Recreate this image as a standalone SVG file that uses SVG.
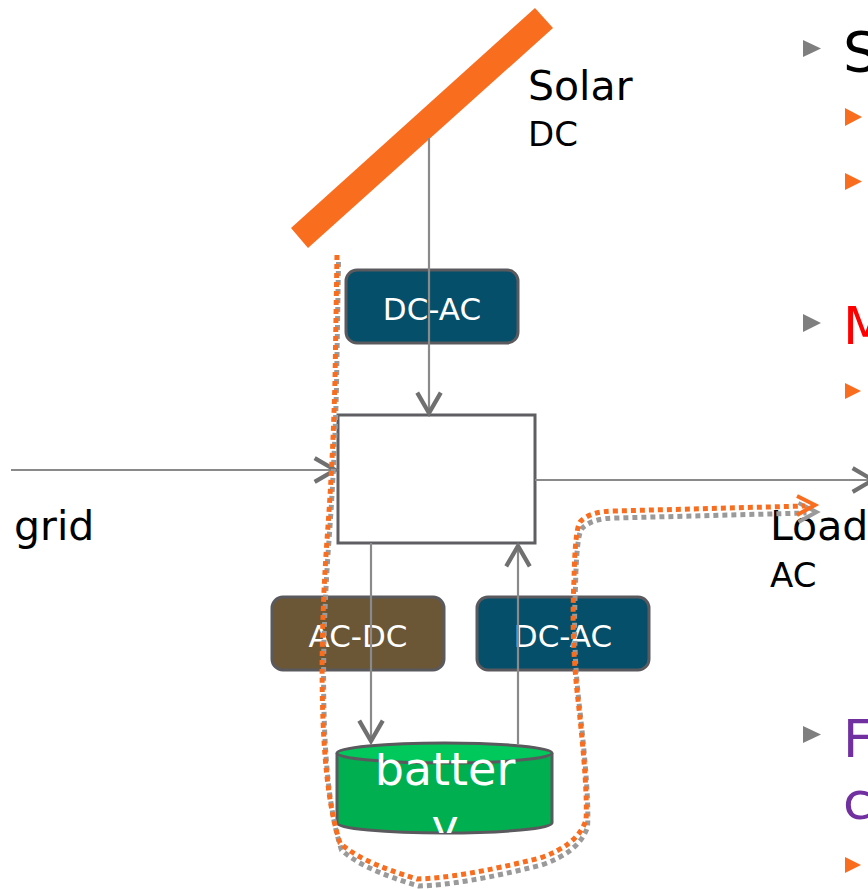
<svg xmlns="http://www.w3.org/2000/svg" width="868" height="889" viewBox="0 0 868 889">
<style>
text{font-family:"DejaVu Sans","Verdana",sans-serif}
.lbl{font-size:41px;fill:#000}
.sub{font-size:34px;fill:#000}
.btxt{font-size:31px;fill:#fff;text-anchor:middle}
.conv{stroke:#5a5a5e;stroke-width:3}
.conn{stroke:#8a8a8a;stroke-width:2.2;fill:none;marker-end:url(#arr)}
.gb{fill:#7f7f7f}
.ob{fill:#f96d1f}
.flow{fill:none;stroke-width:5;stroke-dasharray:5 4}
</style>
<defs>
<marker id="arr" markerUnits="userSpaceOnUse" markerWidth="30" markerHeight="30" refX="0" refY="0" viewBox="-22 -14 24 28" orient="auto">
<path d="M-19,-11 L0,0 L-19,11" fill="none" stroke="#707070" stroke-width="4"/>
</marker>
<clipPath id="batclip">
<path d="M337,753 L337,823 A107.5,10 0 0 0 552,823 L552,753 Z"/>
</clipPath>
</defs>

<g id="solar">
<polygon points="291,228 535,8 553,28 308,248" fill="#f96d1f"/>
<text class="lbl" x="528" y="100">Solar</text>
<text class="sub" x="528" y="146">DC</text>
</g>

<g id="dcac-top">
<rect class="conv" x="346" y="270" width="172" height="73" rx="11" fill="#054f6a"/>
<text class="btxt" x="432" y="320">DC-AC</text>
</g>

<g id="inverter">
<rect x="338" y="415" width="197" height="128" fill="#fff" stroke="#5f5f63" stroke-width="3"/>
</g>

<g id="grid">
<text class="lbl" x="14" y="540">grid</text>
</g>

<g id="load">
<text class="lbl" x="770" y="540">Load</text>
<text class="sub" x="770" y="587">AC</text>
</g>

<g id="acdc">
<rect class="conv" x="272" y="597" width="172" height="73" rx="11" fill="#6b5636"/>
<text class="btxt" x="358" y="647">AC-DC</text>
</g>

<g id="dcac-bottom">
<rect class="conv" x="477" y="597" width="172" height="73" rx="11" fill="#054f6a"/>
<text class="btxt" x="563" y="647">DC-AC</text>
</g>

<g id="battery">
<path d="M337,753 L337,823 A107.5,10 0 0 0 552,823 L552,753" fill="#00b050" stroke="#5a5a5e" stroke-width="3"/>
<ellipse cx="444.5" cy="753" rx="107.5" ry="10" fill="#00c85a" stroke="#5a5a5e" stroke-width="3"/>
<g clip-path="url(#batclip)">
<text x="445" y="785" font-size="46" fill="#fff" text-anchor="middle">batter</text>
<text x="445" y="842" font-size="46" fill="#fff" text-anchor="middle">y</text>
</g>
</g>

<g id="connectors">
<line class="conn" x1="429" y1="138" x2="429" y2="413"/>
<line class="conn" x1="11" y1="470" x2="335" y2="470"/>
<line class="conn" x1="535" y1="480" x2="873" y2="480"/>
<line class="conn" x1="371" y1="543" x2="371" y2="741"/>
<line class="conn" x1="518" y1="744" x2="518" y2="546"/>
</g>

<g id="flow">
<g transform="translate(1.5,7)" stroke="#9a9a9a">
<path class="flow" d="M337,255 L335,380 Q333,460 327,540 Q320,640 323,720 Q326,800 340,843 Q360,862 417,879 Q460,878 540,858 Q578,845 586,820 Q588,790 578,700 Q571,640 574,580 Q575,530 580,522 Q590,511 615,511 L805,506"/>
<path d="M797,496 L815,505 L797,515" fill="none" stroke-width="4"/>
</g>
<g stroke="#f96d1f">
<path class="flow" d="M337,255 L335,380 Q333,460 327,540 Q320,640 323,720 Q326,800 340,843 Q360,862 417,879 Q460,878 540,858 Q578,845 586,820 Q588,790 578,700 Q571,640 574,580 Q575,530 580,522 Q590,511 615,511 L805,506"/>
<path d="M797,496 L815,505 L797,515" fill="none" stroke-width="4"/>
</g>
</g>

<g id="bullets">
<polygon class="gb" points="803,40 821,48.5 803,57"/>
<text x="843" y="71" font-size="56" fill="#000">S</text>
<polygon class="ob" points="845,108 862,117 845,126"/>
<polygon class="ob" points="845,173 862,181.5 845,190"/>
<polygon class="gb" points="803,314 821,323 803,332"/>
<text x="843" y="344" font-size="52" fill="#ff0000">M</text>
<polygon class="ob" points="845,383 861,391 845,399"/>
<polygon class="gb" points="803,726 821,734.5 803,743"/>
<text x="843" y="757" font-size="52" fill="#7030a0">F</text>
<text x="843" y="819" font-size="52" fill="#7030a0">c</text>
<polygon class="ob" points="845,857 861,865 845,873"/>
</g>
</svg>
